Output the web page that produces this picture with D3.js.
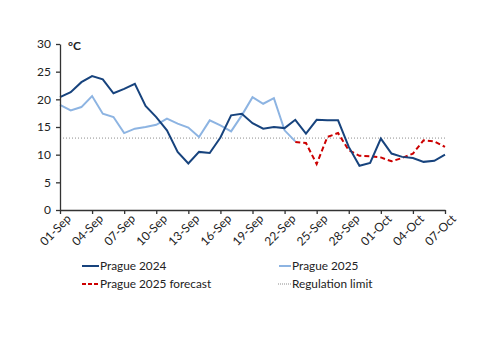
<!DOCTYPE html>
<html>
<head>
<meta charset="utf-8">
<script src="https://cdn.jsdelivr.net/npm/d3@7"></script>
<style>
  body { margin: 0; background: #fff; }
  text { font-family: Lato, "Open Sans", sans-serif; }
</style>
</head>
<body>
<div id="chart"></div>
<script>
// daily values, 01-Sep .. 07-Oct
const startDate = "2025-09-01";
const dayCount = 37;
const prague2024 = [20.4, 21.3, 23.1, 24.2, 23.6, 21.1, 21.9, 22.8, 18.8, 16.8,
  14.4, 10.5, 8.4, 10.5, 10.3, 13.1, 17.1, 17.4, 15.7, 14.7,
  15.0, 14.8, 16.3, 13.8, 16.3, 16.2, 16.2, 11.4, 8.0, 8.5,
  12.9, 10.2, 9.6, 9.4, 8.7, 8.9, 10.0];
const prague2025 = [19.0, 18.0, 18.6, 20.6, 17.4, 16.8, 13.9, 14.7, 15.0, 15.4,
  16.5, 15.6, 14.9, 13.2, 16.2, 15.3, 14.2, 17.1, 20.4, 19.2,
  20.2, 14.4, 12.4];
const forecastStart = 22;
const forecast2025 = [12.3, 12.1, 8.3, 13.2, 13.9, 10.8, 9.8, 9.7, 9.5, 8.8,
  9.4, 10.2, 12.6, 12.4, 11.4];
const regulationLimit = 13;
const yTicks = [0, 5, 10, 15, 20, 25, 30];
const tickStepDays = 3;

const margin = { top: 44, right: 55, bottom: 143, left: 60 },
  width = 500 - margin.left - margin.right,
  height = 353 - margin.top - margin.bottom;

const svg = d3.select("#chart").append("svg")
  .attr("width", 500).attr("height", 353)
  .append("g")
  .attr("transform", "translate(" + margin.left + "," + margin.top + ")");

const parse = d3.timeParse("%Y-%m-%d");
const d0 = parse(startDate);
const dates = d3.range(dayCount).map(i => d3.timeDay.offset(d0, i));

const x = d3.scaleTime().domain([dates[0], dates[dates.length - 1]]).range([0, width]);
const y = d3.scaleLinear().domain([0, 30]).range([height, 0]);

// regulation limit
svg.append("line")
  .attr("x1", 0).attr("x2", width)
  .attr("y1", y(regulationLimit)).attr("y2", y(regulationLimit))
  .attr("stroke", "#8c8c8c").attr("stroke-width", 1)
  .attr("stroke-dasharray", "1,2");

const line = d3.line()
  .defined(d => d.v != null)
  .x(d => x(d.date))
  .y(d => y(d.v));

const s2024 = prague2024.map((v, i) => ({ date: dates[i], v: v }));
const s2025 = prague2025.map((v, i) => ({ date: dates[i], v: v }));
const sFc = forecast2025.map((v, i) => ({ date: dates[forecastStart + i], v: v }));

svg.append("path").datum(s2025)
  .attr("fill", "none").attr("stroke", "#8db4e2").attr("stroke-width", 2)
  .attr("d", line);
svg.append("path").datum(sFc)
  .attr("fill", "none").attr("stroke", "#cc0000").attr("stroke-width", 2)
  .attr("stroke-dasharray", "5,3")
  .attr("d", line);
svg.append("path").datum(s2024)
  .attr("fill", "none").attr("stroke", "#17437d").attr("stroke-width", 2)
  .attr("d", line);

// axes
const xTicks = dates.filter((d, i) => i % tickStepDays === 0);
const xAxis = svg.append("g")
  .attr("transform", "translate(0," + height + ")")
  .call(d3.axisBottom(x).tickValues(xTicks).tickFormat(d3.timeFormat("%d-%b")).tickSize(4).tickSizeOuter(0));
xAxis.selectAll("text")
  .attr("text-anchor", "end")
  .attr("dx", "0.1em").attr("dy", "0.65em")
  .attr("transform", "rotate(-45)")
  .attr("font-size", 12).attr("fill", "#222");

const yAxis = svg.append("g")
  .call(d3.axisLeft(y).tickValues(yTicks).tickSize(4).tickSizeOuter(0));
yAxis.selectAll("text").attr("font-size", 12).attr("fill", "#222").attr("x", -9);

svg.selectAll(".domain, .tick line").attr("stroke", "#333").attr("stroke-width", 1.3);

svg.append("text")
  .attr("x", 8).attr("y", 6)
  .attr("font-size", 12).attr("font-weight", "bold").attr("fill", "#222")
  .text("°C");

// legend
const legendItems = [
  { label: "Prague 2024", color: "#17437d", dash: null, w: 2, x: 22, y: 222, len: 17 },
  { label: "Prague 2025", color: "#8db4e2", dash: null, w: 2, x: 219, y: 222, len: 12 },
  { label: "Prague 2025 forecast", color: "#cc0000", dash: "4,2", w: 2, x: 22, y: 240, len: 17 },
  { label: "Regulation limit", color: "#8c8c8c", dash: "1,1", w: 1, x: 218, y: 240, len: 13 }
];
const leg = svg.append("g").selectAll("g").data(legendItems).enter().append("g")
  .attr("transform", d => "translate(" + d.x + "," + d.y + ")");
leg.append("line")
  .attr("x1", 0).attr("x2", d => d.len)
  .attr("stroke", d => d.color).attr("stroke-width", d => d.w)
  .attr("stroke-dasharray", d => d.dash);
leg.append("text")
  .attr("x", d => d.len + 1).attr("dy", "0.35em")
  .attr("font-size", 11.8).attr("fill", "#222")
  .text(d => d.label);
</script>
</body>
</html>
